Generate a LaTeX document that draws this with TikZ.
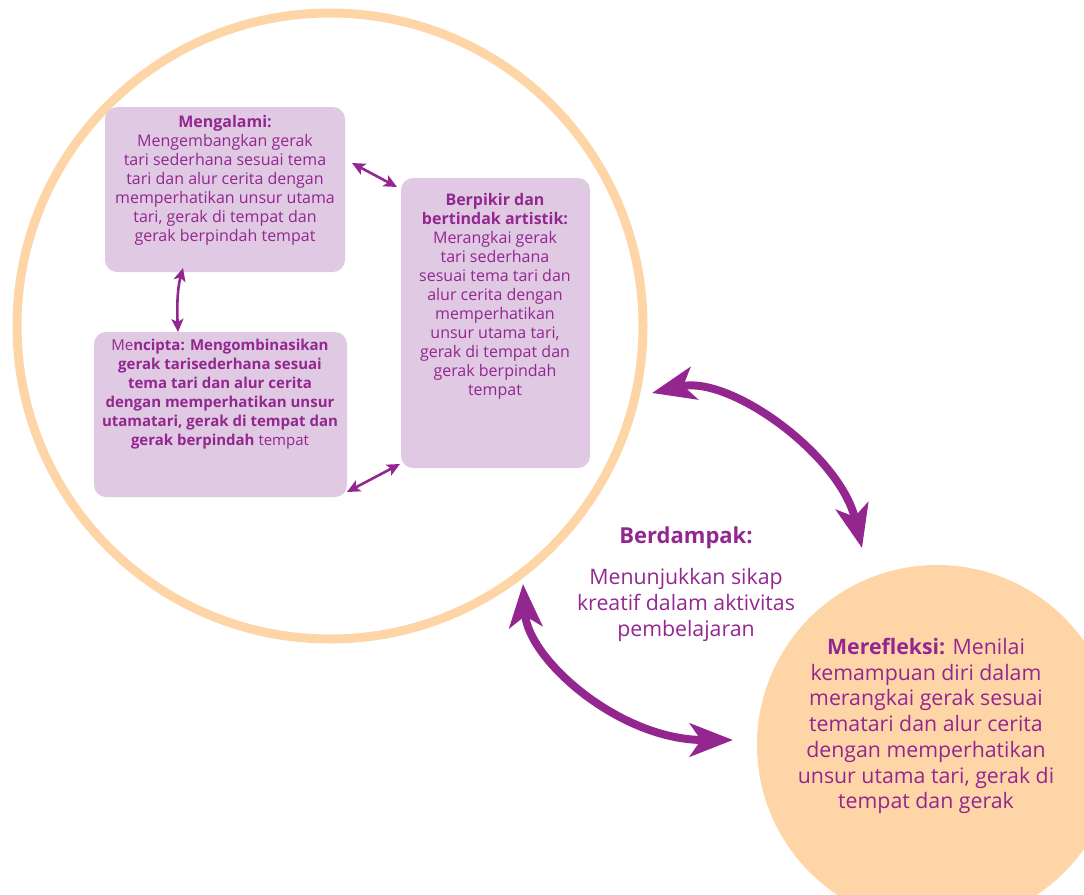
\documentclass[tikz,border=0pt]{standalone}
\usepackage{fontspec}
\setmainfont{Open Sans}
\usetikzlibrary{arrows.meta}
\definecolor{purp}{HTML}{93278F}
\definecolor{lav}{HTML}{DFC9E3}
\definecolor{peach}{HTML}{FED5A7}
\tikzset{
  box/.style={fill=lav, rounded corners=12pt, draw=none, inner sep=0pt},
  txt/.style={text=purp, align=center, inner sep=0pt, font=\fontsize{16}{19}\selectfont},
  boldtxt/.style={text=purp, align=center, inner sep=0pt, font=\fontsize{15}{19}\selectfont},
  bigtxt/.style={text=purp, align=center, inner sep=0pt, font=\fontsize{21.3}{25.7}\selectfont},
  smallarr/.style={draw=purp, line width=2.6pt, {Stealth[length=13pt,width=12pt,inset=3pt]}-{Stealth[length=13pt,width=12pt,inset=3pt]}},
  bigarr/.style={draw=purp, line width=8pt, {Stealth[length=43pt,width=33pt,inset=11pt]}-{Stealth[length=43pt,width=33pt,inset=11pt]}},
}
\begin{document}
\begin{tikzpicture}[x=1pt,y=-1pt]
\useasboundingbox (0,0) rectangle (1084,894);
\begin{scope}
\clip (0,0) rectangle (1084,894);
\fill[peach] (937,745) circle (180);
\end{scope}
\draw[peach, line width=9pt] (330,326) circle (313);

\path[box] (105,107) rectangle (345,272) node[pos=0.5] (mengalami) {};
\path[box] (94,332) rectangle (347,497) node[pos=0.5] (mencipta) {};
\path[box] (401,178) rectangle (590,468) node[pos=0.5] (berpikir) {};

\node[txt] (t1) at (225,180) {\textbf{Mengalami:}\\Mengembangkan gerak\\tari sederhana sesuai tema\\tari dan alur cerita dengan\\memperhatikan unsur utama\\tari, gerak di tempat dan\\gerak berpindah tempat};
\node[boldtxt] (t2) at (220,394) {Me\textbf{ncipta: Mengombinasikan}\\\textbf{gerak tarisederhana sesuai}\\\textbf{tema tari dan alur cerita}\\\textbf{dengan memperhatikan unsur}\\\textbf{utamatari, gerak di tempat dan}\\\textbf{gerak berpindah} tempat};
\node[txt] (t3) at (495,296) {\textbf{Berpikir dan}\\\textbf{bertindak artistik:}\\Merangkai gerak\\tari sederhana\\sesuai tema tari dan\\alur cerita dengan\\memperhatikan\\unsur utama tari,\\gerak di tempat dan\\gerak berpindah\\tempat};
\node[bigtxt, font=\fontsize{22}{25.7}\selectfont] (t4) at (686,538) {\textbf{Berdampak:}};
\node[bigtxt] (t5) at (686,605) {Menunjukkan sikap\\kreatif dalam aktivitas\\pembelajaran};
\node[bigtxt] (t6) at (926,726) {\textbf{Merefleksi:} Menilai\\kemampuan diri dalam\\merangkai gerak sesuai\\tematari dan alur cerita\\dengan memperhatikan\\unsur utama tari, gerak di\\tempat dan gerak};

\coordinate (a1) at (352,163); \coordinate (a2) at (397,187);
\coordinate (b1) at (347,492); \coordinate (b2) at (400,464);
\coordinate (c1) at (183,268); \coordinate (c2) at (178,332);
\draw[smallarr] (a1) -- (a2);
\draw[smallarr] (b1) -- (b2);
\draw[smallarr] (c1) .. controls (177,290) and (177,310) .. (c2);

\coordinate (d1) at (652,393); \coordinate (d2) at (862,548);
\coordinate (e1) at (523,584); \coordinate (e2) at (733,740);
\draw[bigarr] (d1) .. controls (730,375) and (840,455) .. (d2);
\draw[bigarr] (e1) .. controls (528,660) and (620,740) .. (e2);
\end{tikzpicture}
\end{document}
